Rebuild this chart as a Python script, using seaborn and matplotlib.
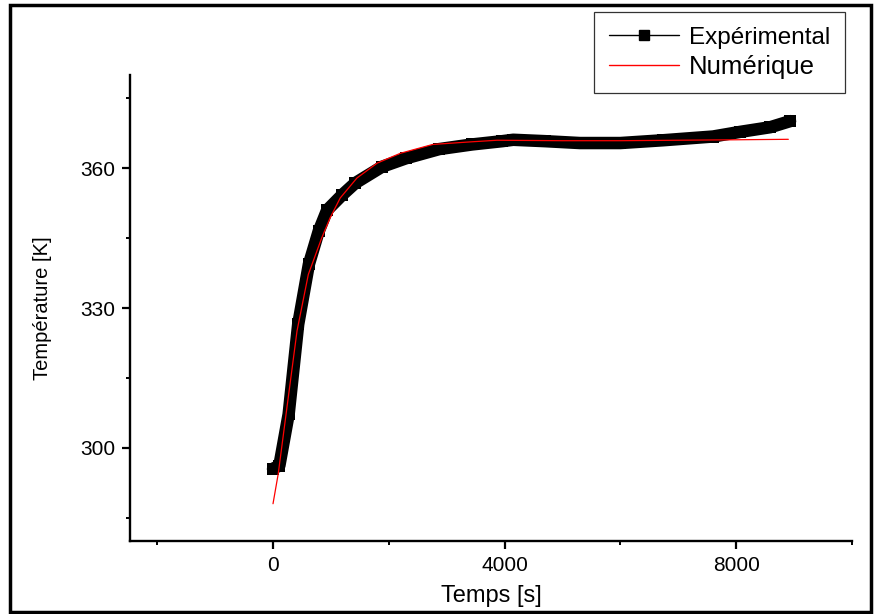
import matplotlib
matplotlib.use("Agg")
import matplotlib.pyplot as plt
from matplotlib.lines import Line2D
from matplotlib.patches import Rectangle
from matplotlib.ticker import MultipleLocator
import seaborn as sns
import pandas as pd

# ---- data ----
exp_time = [0, 110, 270, 435, 620, 790, 935, 1190, 1420, 1880, 2290, 2870, 3440,
            3960, 4150, 4700, 5300, 6000, 6740, 7600, 8070, 8590, 8930]
exp_temp = [295.5, 296.2, 307.2, 326.5, 339.4, 346.5, 351.0, 354.2, 356.8, 360.3,
            362.1, 364.1, 365.1, 365.8, 366.1, 365.8, 365.4, 365.4, 366.0, 366.8,
            367.8, 368.8, 370.1]

num_time = [0, 90, 240, 415, 610, 840, 985, 1160, 1450, 1800, 2200, 2760, 3350,
            3870, 5000, 6000, 7000, 8000, 8900]
num_temp = [288.0, 294.4, 308.6, 325.1, 337.2, 345.0, 349.3, 353.6, 357.9, 361.1,
            363.2, 365.1, 365.6, 366.0, 365.9, 365.9, 366.0, 366.1, 366.2]

series_labels = ["Expérimental", "Numérique"]
x_label = "Temps [s]"
y_label = "Température [K]"
x_ticks = [0, 4000, 8000]
y_ticks = [300, 330, 360]

df_exp = pd.DataFrame({"t": exp_time, "T": exp_temp})
df_num = pd.DataFrame({"t": num_time, "T": num_temp})

# ---- style ----
sns.set_style("ticks")
plt.rcParams["font.family"] = ["Liberation Sans", "DejaVu Sans"]
plt.rcParams["text.color"] = "black"
plt.rcParams["axes.labelcolor"] = "black"
plt.rcParams["xtick.color"] = "black"
plt.rcParams["ytick.color"] = "black"

fig = plt.figure(figsize=(8.74, 6.14), dpi=100)
ax = fig.add_axes([130 / 874, 1 - 541 / 614, (852 - 130) / 874, (541 - 75) / 614])

sns.lineplot(data=df_exp, x="t", y="T", ax=ax, color="black", linewidth=9,
             marker="s", markersize=9, markeredgewidth=0, sort=False,
             estimator=None, legend=False)
sns.lineplot(data=df_num, x="t", y="T", ax=ax, color="red", linewidth=0.9,
             sort=False, estimator=None, legend=False)

ax.set_xlim(-2470, 10000)
ax.set_ylim(280, 380)
ax.set_xticks(x_ticks)
ax.set_yticks(y_ticks)
ax.xaxis.set_minor_locator(MultipleLocator(2000))
ax.yaxis.set_minor_locator(MultipleLocator(15))
ax.set_xticklabels([str(v) for v in x_ticks])
ax.set_yticklabels([str(v) for v in y_ticks])

for s in ["top", "right"]:
    ax.spines[s].set_visible(False)
for s in ["left", "bottom"]:
    ax.spines[s].set_linewidth(1.7)
    ax.spines[s].set_color("black")

ax.tick_params(axis="both", which="major", direction="out", length=5.5, width=1.6,
               labelsize=15, pad=5, colors="black", labelcolor="black")
ax.tick_params(axis="both", which="minor", direction="out", length=3, width=1.4,
               colors="black")

ax.set_xlabel(x_label, fontsize=17, color="black")
ax.set_ylabel(y_label, fontsize=14.5, color="black")
ax.xaxis.set_label_coords(0.5, -0.094)
ax.yaxis.set_label_coords(-0.108, 0.5)

handles = [
    Line2D([], [], color="black", lw=1, marker="s", markersize=7),
    Line2D([], [], color="red", lw=1),
]
leg = fig.legend(handles, series_labels, loc="upper right",
                 bbox_to_anchor=(845 / 874, 1 - 12 / 614),
                 bbox_transform=fig.transFigure, frameon=True, fancybox=False,
                 fontsize=17.5, handlelength=2.9, handletextpad=0.4,
                 labelspacing=0.25, borderpad=0.6, borderaxespad=0, numpoints=1)
leg.get_frame().set_edgecolor("black")
leg.get_frame().set_linewidth(0.9)
for t in leg.get_texts():
    t.set_color("black")
leg.get_texts()[1].set_fontsize(18.5)

# outer figure border
fig.patches.append(Rectangle((9.5 / 874, 2 / 614), (871 - 9.5) / 874, (612 - 5) / 614,
                             transform=fig.transFigure, fill=False,
                             edgecolor="black", linewidth=2.5, zorder=10))

fig.savefig("out.png", dpi=100)
